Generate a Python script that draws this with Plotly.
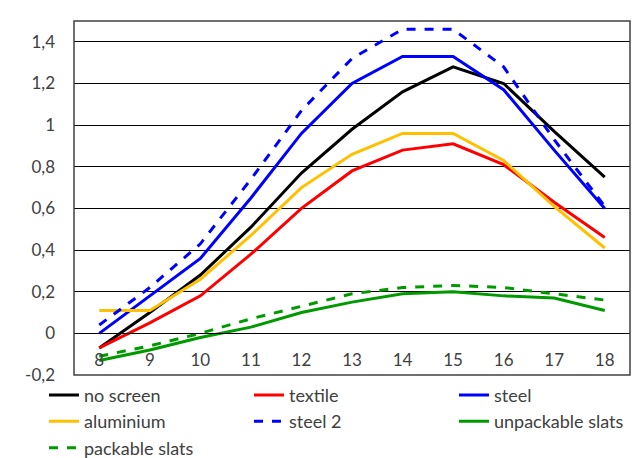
import plotly.graph_objects as go

hours = [8, 9, 10, 11, 12, 13, 14, 15, 16, 17, 18]

no_screen = [-0.07, 0.10, 0.28, 0.51, 0.77, 0.98, 1.16, 1.28, 1.20, 0.97, 0.75]
textile = [-0.07, 0.05, 0.18, 0.38, 0.60, 0.78, 0.88, 0.91, 0.81, 0.63, 0.46]
steel = [0.00, 0.18, 0.36, 0.65, 0.96, 1.20, 1.33, 1.33, 1.17, 0.88, 0.60]
aluminium = [0.11, 0.11, 0.26, 0.47, 0.70, 0.86, 0.96, 0.96, 0.83, 0.61, 0.41]
steel_2 = [0.04, 0.22, 0.43, 0.74, 1.07, 1.32, 1.46, 1.46, 1.28, 0.93, 0.61]
unpackable = [-0.13, -0.08, -0.02, 0.03, 0.10, 0.15, 0.19, 0.20, 0.18, 0.17, 0.11]
packable = [-0.11, -0.06, 0.00, 0.07, 0.13, 0.19, 0.22, 0.23, 0.22, 0.19, 0.16]

y_ticks = [-0.2, 0, 0.2, 0.4, 0.6, 0.8, 1, 1.2, 1.4]
y_labels = ["-0,2", "0", "0,2", "0,4", "0,6", "0,8", "1", "1,2", "1,4"]

series = [
    ("no screen", no_screen, "#000000", "solid"),
    ("textile", textile, "#ff0000", "solid"),
    ("steel", steel, "#0000ff", "solid"),
    ("aluminium", aluminium, "#ffc000", "solid"),
    ("steel 2", steel_2, "#0000ff", "dash"),
    ("unpackable slats", unpackable, "#009900", "solid"),
    ("packable slats", packable, "#009900", "dash"),
]

FONT = "Lato"

fig = go.Figure()
for name, vals, color, dash in series:
    fig.add_trace(go.Scatter(x=hours, y=vals, mode="lines", name=name,
                             line=dict(color=color, width=3, dash=dash)))

# legend sits left of / below the plot so plotly lets it use the full width
fig.update_layout(
    width=640, height=458,
    margin=dict(l=66, r=18, t=13, b=91, autoexpand=False),
    paper_bgcolor="white", plot_bgcolor="white",
    font=dict(family=FONT, size=17, color="#404040"),
    showlegend=True,
    legend=dict(orientation="h", x=-0.054, y=-0.005,
                xanchor="left", yanchor="top", bgcolor="rgba(0,0,0,0)",
                entrywidth=160, tracegroupgap=0,
                font=dict(family=FONT, size=18, color="#404040")),
    shapes=[dict(type="rect", xref="paper", yref="paper", x0=0, x1=1, y0=0, y1=1,
                 line=dict(color="#404040", width=1.5), layer="above")],
)

fig.update_xaxes(
    range=[7.5, 18.5], tickvals=hours, showgrid=False, zeroline=False,
    anchor="free", position=0.2 / 1.7, showline=True, linecolor="#000000",
    linewidth=1, ticks="", ticklabelstandoff=11,
)
fig.update_yaxes(
    range=[-0.2, 1.5], tickvals=y_ticks, ticktext=y_labels,
    showgrid=True, gridcolor="#000000", gridwidth=1, zeroline=False,
    ticks="", ticklabelstandoff=18,
)

fig.write_html("out.html")
